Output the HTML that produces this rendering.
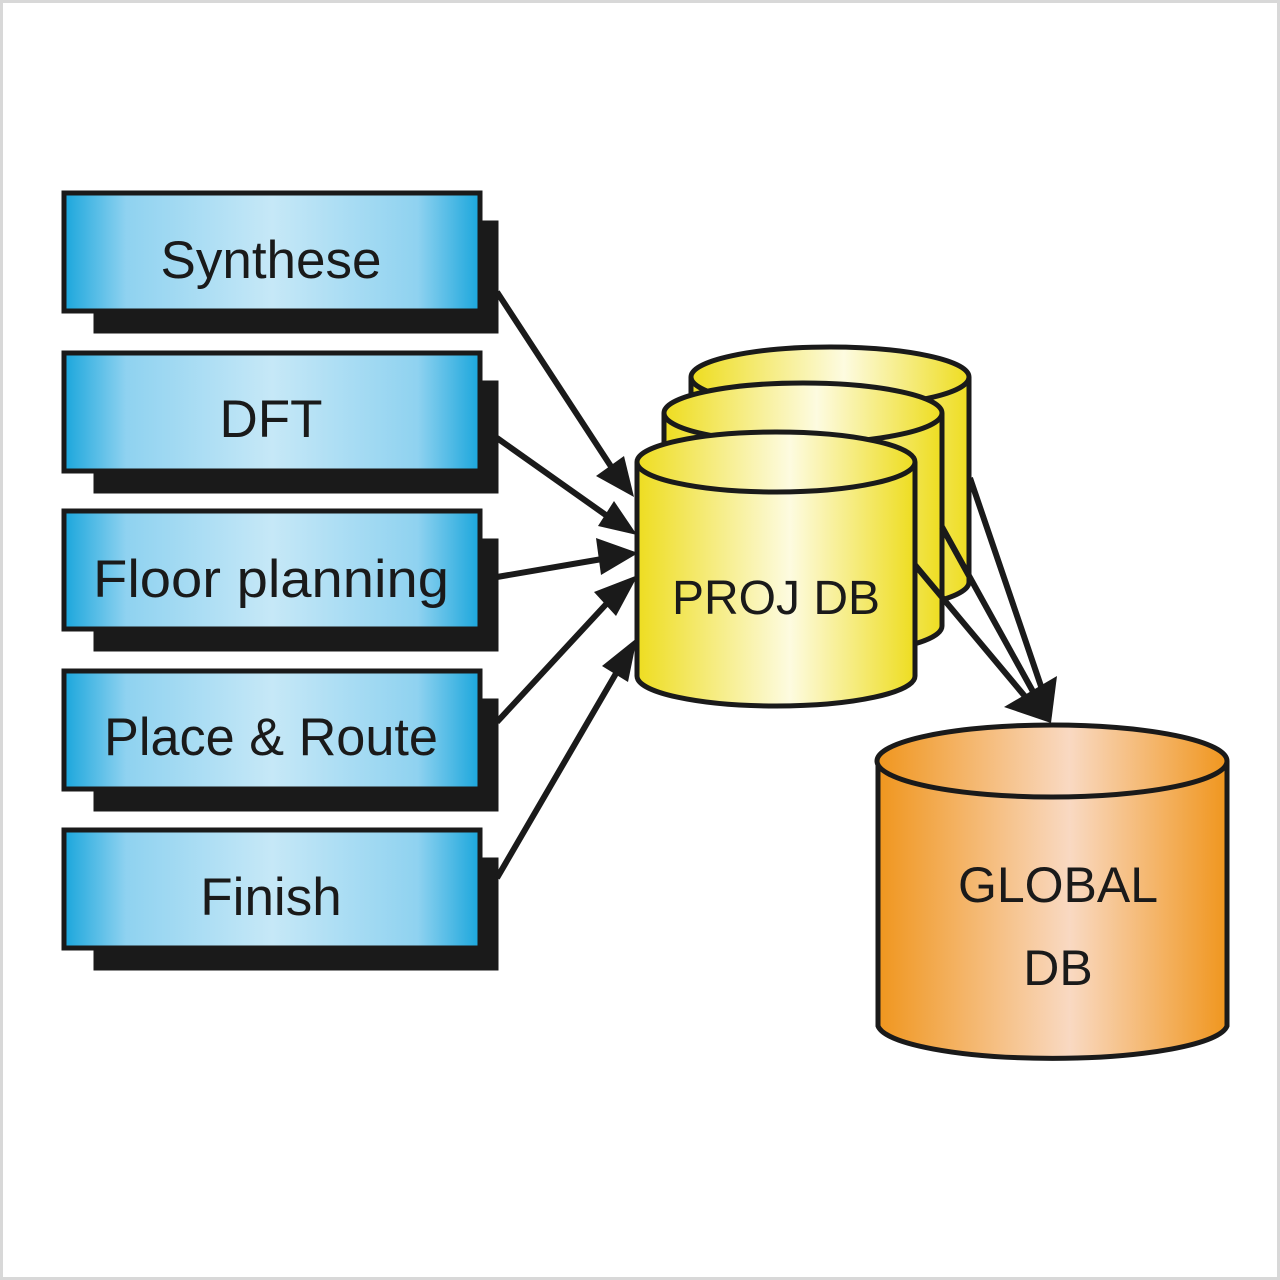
<!DOCTYPE html>
<html><head><meta charset="utf-8"><style>
html,body{margin:0;padding:0;background:#fff;}
svg{display:block;}
text{font-family:"Liberation Sans",sans-serif;fill:#1a1a1a;}
</style></head><body>
<svg width="1280" height="1280" viewBox="0 0 1280 1280" xmlns="http://www.w3.org/2000/svg">
<defs>
<linearGradient id="blue" x1="0" x2="1" y1="0" y2="0">
<stop offset="0" stop-color="#1aa6dc"/><stop offset="0.15" stop-color="#8fd2f0"/><stop offset="0.5" stop-color="#c6e8f7"/><stop offset="0.85" stop-color="#8fd2f0"/><stop offset="1" stop-color="#1aa6dc"/>
</linearGradient>
<linearGradient id="yel" x1="0" x2="1" y1="0" y2="0">
<stop offset="0" stop-color="#eedd20"/><stop offset="0.55" stop-color="#fdfbe0"/><stop offset="1" stop-color="#eedd20"/>
</linearGradient>
<linearGradient id="org" x1="0" x2="1" y1="0" y2="0">
<stop offset="0" stop-color="#f0961e"/><stop offset="0.55" stop-color="#f9d9c2"/><stop offset="1" stop-color="#f0961e"/>
</linearGradient>
</defs>
<rect x="1.5" y="1.5" width="1277" height="1277" fill="#fff" stroke="#d8d8d8" stroke-width="3"/>

<g stroke="#1a1a1a" stroke-width="5">
<rect x="96" y="223" width="400" height="108" fill="#1a1a1a"/>
<rect x="64" y="193" width="416" height="118" fill="url(#blue)"/>
<rect x="96" y="383" width="400" height="108" fill="#1a1a1a"/>
<rect x="64" y="353" width="416" height="118" fill="url(#blue)"/>
<rect x="96" y="541" width="400" height="108" fill="#1a1a1a"/>
<rect x="64" y="511" width="416" height="118" fill="url(#blue)"/>
<rect x="96" y="701" width="400" height="108" fill="#1a1a1a"/>
<rect x="64" y="671" width="416" height="118" fill="url(#blue)"/>
<rect x="96" y="860" width="400" height="108" fill="#1a1a1a"/>
<rect x="64" y="830" width="416" height="118" fill="url(#blue)"/>
</g>
<g font-size="53" text-anchor="middle">
<text x="271" y="278">Synthese</text>
<text x="271" y="437">DFT</text>
<text x="271" y="597" textLength="356" lengthAdjust="spacingAndGlyphs">Floor planning</text>
<text x="271" y="755" textLength="334" lengthAdjust="spacingAndGlyphs">Place &amp; Route</text>
<text x="271" y="915">Finish</text>
</g>

<g stroke="#1a1a1a" stroke-width="5">
<path d="M691 377 L691 582 A139 30 0 0 0 969 582 L969 377" fill="url(#yel)"/>
<ellipse cx="830" cy="377" rx="139" ry="30" fill="url(#yel)"/>
<path d="M664 413 L664 626 A139 30 0 0 0 942 626 L942 413" fill="url(#yel)"/>
<ellipse cx="803" cy="413" rx="139" ry="30" fill="url(#yel)"/>
<path d="M637 462 L637 676 A139 30 0 0 0 915 676 L915 462" fill="url(#yel)"/>
<ellipse cx="776" cy="462" rx="139" ry="30" fill="url(#yel)"/>
<path d="M878 761 L878 1026 A175 35 0 0 0 1227 1026 L1227 761" fill="url(#org)"/>
<ellipse cx="1052" cy="761" rx="175" ry="36" fill="url(#org)"/>
</g>
<text x="776" y="614" font-size="48" text-anchor="middle">PROJ DB</text>
<text x="1058" y="902" font-size="50" text-anchor="middle">GLOBAL</text>
<text x="1058" y="985" font-size="50" text-anchor="middle">DB</text>

<g stroke="#1a1a1a" stroke-width="6" fill="none">
<line x1="497" y1="292" x2="612" y2="468"/>
<line x1="497" y1="438" x2="610" y2="518"/>
<line x1="497" y1="577" x2="608" y2="558"/>
<line x1="497" y1="722" x2="610" y2="600"/>
<line x1="497" y1="878" x2="618" y2="670"/>
<line x1="970" y1="478" x2="1044" y2="695"/>
<line x1="942" y1="527" x2="1036" y2="697"/>
<line x1="915" y1="565" x2="1028" y2="700"/>
</g>
<g fill="#1a1a1a">
<polygon points="634,497 596,476 624,456"/>
<polygon points="637,535 598,526 614,501"/>
<polygon points="638,553 601,575 596,538"/>
<polygon points="638,575 616,616 594,592"/>
<polygon points="637,638 628,682 602,666"/>
<polygon points="1051,723 1004,707 1057,676"/>
</g>
</svg>
</body></html>
